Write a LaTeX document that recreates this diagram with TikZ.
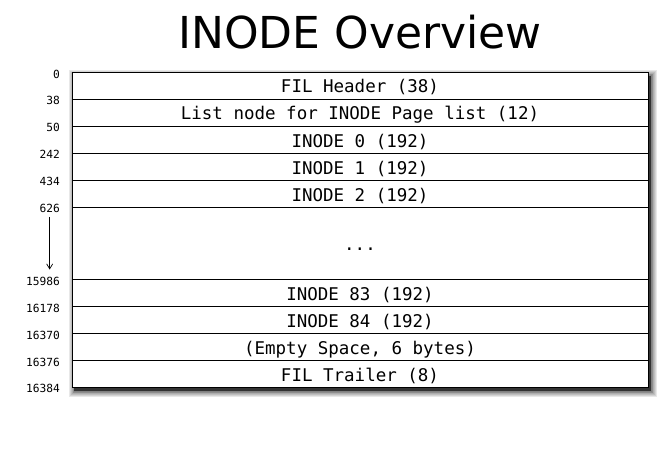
\documentclass[tikz,border=0pt]{standalone}
\usepackage{fontspec}
\setmainfont{DejaVu Sans}
\newfontfamily\monofnt{DejaVu Sans Mono}
\usetikzlibrary{arrows.meta}
\tikzset{
  rowbox/.style={draw=black, line width=0.9pt, fill=white, minimum width=576pt, inner sep=0pt, text height=15pt, text depth=0pt, font=\monofnt\fontsize{17.5}{19}\selectfont},
  offlabel/.style={anchor=east, inner sep=0pt, font=\monofnt\fontsize{11.2}{13}\selectfont},
}
\begin{document}
\begin{tikzpicture}[x=1pt,y=1pt]
\useasboundingbox[fill=white] (0,0) rectangle (671,-468);
% title
\node[font=\fontsize{44}{50}\selectfont, inner sep=0pt] (title) at (360,-32) {INODE Overview};
% blurred shadow
\foreach \i in {1,...,7}{
  \fill[black, opacity=0.09] (72+3-\i*0.8,-72-4+\i*0.8) rectangle (648+3+\i*0.8,-387-4-\i*0.8);
}
\fill[black, opacity=0.6] (74,-76) rectangle (651,-391);
% rows
\node[rowbox, minimum height=27pt] (r1) at (360,-85.5) {FIL Header (38)};
\node[rowbox, minimum height=27pt] (r2) at (360,-112.5) {List node for INODE Page list (12)};
\node[rowbox, minimum height=27pt] (r3) at (360,-139.5) {INODE 0 (192)};
\node[rowbox, minimum height=27pt] (r4) at (360,-166.5) {INODE 1 (192)};
\node[rowbox, minimum height=27pt] (r5) at (360,-193.5) {INODE 2 (192)};
\node[rowbox, minimum height=72pt] (r6) at (360,-243) {...};
\node[rowbox, minimum height=27pt] (r7) at (360,-292.5) {INODE 83 (192)};
\node[rowbox, minimum height=27pt] (r8) at (360,-319.5) {INODE 84 (192)};
\node[rowbox, minimum height=27pt] (r9) at (360,-346.5) {(Empty Space, 6 bytes)};
\node[rowbox, minimum height=27pt] (r10) at (360,-373.5) {FIL Trailer (8)};
% offsets
\node[offlabel] (o0) at (60,-74) {0};
\node[offlabel] (o38) at (60,-100) {38};
\node[offlabel] (o50) at (60,-127.5) {50};
\node[offlabel] (o242) at (60,-154.5) {242};
\node[offlabel] (o434) at (60,-181.5) {434};
\node[offlabel] (o626) at (60,-208.5) {626};
\node[offlabel] (o15986) at (60,-281) {15986};
\node[offlabel] (o16178) at (60,-308) {16178};
\node[offlabel] (o16370) at (60,-335) {16370};
\node[offlabel] (o16376) at (60,-362) {16376};
\node[offlabel] (o16384) at (60,-388) {16384};
\coordinate (astart) at ([yshift=-4pt]o626.south);
\draw[line width=0.7pt, -{Straight Barb[length=5pt,width=6pt]}] (astart) -- ([yshift=7pt]astart |- o15986.north);
\end{tikzpicture}
\end{document}
